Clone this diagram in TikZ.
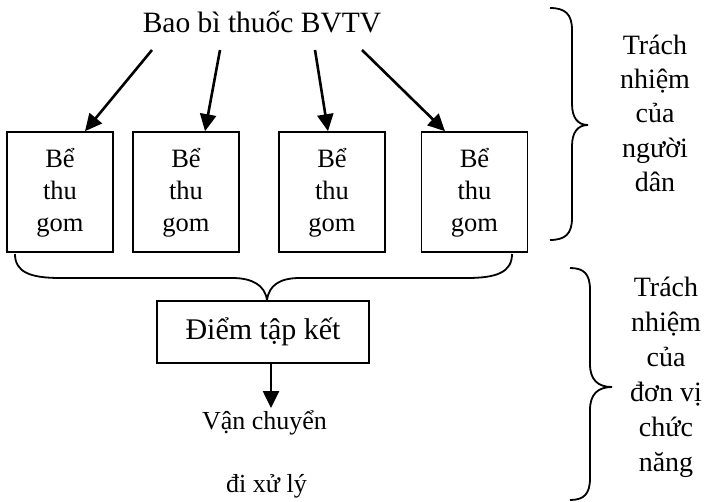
\documentclass[tikz,border=0pt]{standalone}
\usepackage{fontspec}
\setmainfont{Liberation Serif}
\usetikzlibrary{arrows.meta,calc}
\begin{document}
\begin{tikzpicture}[x=1pt,y=-1pt,
  bbox/.style={draw,line width=1.6pt,inner sep=0pt},
  arr/.style={line width=2.6pt,-{Triangle[length=17pt,width=16pt]}},
  brc/.style={line width=1.8pt},
  tx/.style={inner sep=0pt,align=center}]
\useasboundingbox (0,0) rectangle (708,502);
% title
\node[inner sep=0pt,anchor=base,font=\fontsize{29.5}{34}\selectfont] (title) at (262,33) {Bao bì thuốc BVTV};
% boxes
\node[bbox,minimum width=106pt,minimum height=120pt] (b1) at (60,192) {};
\node[bbox,minimum width=106pt,minimum height=120pt] (b2) at (186,192) {};
\node[bbox,minimum width=106pt,minimum height=120pt] (b3) at (332,192) {};
\node[bbox,minimum width=106pt,minimum height=120pt] (b4) at (474.5,192) {};
\foreach \b in {b1,b2,b3,b4}{
  \node[tx,font=\fontsize{26.5}{32}\selectfont] at ([yshift=-1pt]\b.center) {Bể\\thu\\gom};
}
% arrows from title
\draw[arr] ([xshift=-110pt,yshift=-17pt]title.base) -- ([xshift=25pt]b1.north);
\draw[arr] ([xshift=-42pt,yshift=-17pt]title.base) -- ([xshift=19pt]b2.north);
\draw[arr] ([xshift=53pt,yshift=-17pt]title.base) -- ([xshift=-4pt]b3.north);
\draw[arr] ([xshift=100pt,yshift=-17pt]title.base) -- ([xshift=-29.5pt]b4.north);
% collection point
\node[bbox,minimum width=212pt,minimum height=62pt,font=\fontsize{30}{34}\selectfont] (d) at (263,332) {Điểm tập kết};
% lower brace
\coordinate (bl) at (15,254);
\coordinate (br) at (512,254);
\draw[brc] (bl) .. controls (15,272) and (30,278) .. (60,278) -- (232,278)
  .. controls (252,278) and (265,285) .. ([xshift=4pt]d.north);
\draw[brc] (br) .. controls (512,272) and (497,278) .. (467,278) -- (300,278)
  .. controls (280,278) and (269,285) .. ([xshift=4pt]d.north);
% transport
\node[tx,anchor=base,font=\fontsize{26}{30}\selectfont] (van) at (264.5,429) {Vận chuyển};
\node[tx,anchor=base,font=\fontsize{26}{30}\selectfont] (xl) at (266.5,492) {đi xử lý};
\draw[arr] ([xshift=8pt]d.south) -- ([xshift=8pt]d.south |- 0,408);
% right braces
\draw[brc] (550,8) .. controls (565,8) and (572,14) .. (572,30) -- (572,104)
  .. controls (572,118) and (578,125) .. (588,125)
  .. controls (578,125) and (572,132) .. (572,146) -- (572,218)
  .. controls (572,234) and (565,240) .. (550,240);
\draw[brc] (570,268) .. controls (584,268) and (590,274) .. (590,290) -- (590,364)
  .. controls (590,380) and (598,387) .. (612,387)
  .. controls (598,387) and (590,394) .. (590,410) -- (590,478)
  .. controls (590,494) and (584,500) .. (570,500);
\node[tx,anchor=north,font=\fontsize{28}{34.3}\selectfont] (r1) at (655,34.5) {Trách\\nhiệm\\của\\người\\dân};
\node[tx,anchor=north,font=\fontsize{28}{35}\selectfont] (r2) at (666,276.5) {Trách\\nhiệm\\của\\đơn vị\\chức\\năng};
\end{tikzpicture}
\end{document}
